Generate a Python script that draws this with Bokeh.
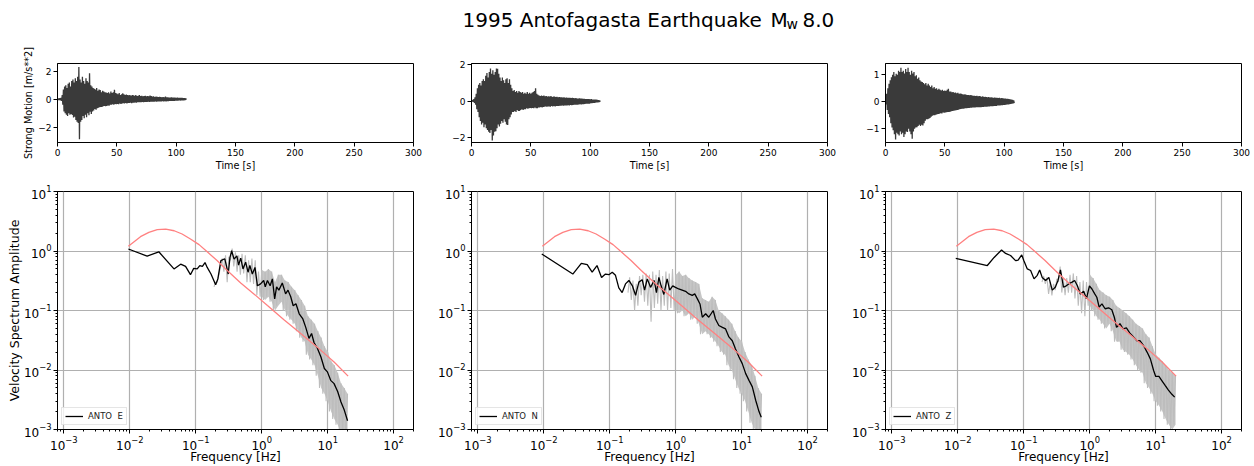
import numpy as np
from bokeh.plotting import figure
from bokeh.layouts import column, row
from bokeh.models import Range1d, FixedTicker, Label, CustomJSTickFormatter
from bokeh.embed import file_html
from bokeh.resources import INLINE

FONT = "DejaVu Sans"

# ---------------- text ----------------
TITLE_MAIN = "1995 Antofagasta Earthquake"
TITLE_M = "M"
TITLE_SUB = "w"
TITLE_MAG = "8.0"
STATION = "ANTO"
COMPONENTS = ["E", "N", "Z"]
TIME_LABEL = "Time [s]"
MOTION_LABEL = "Strong Motion [m/s**2]"
FREQ_LABEL = "Frequency [Hz]"
SPEC_LABEL = "Velocity Spectrum Amplitude"
TIME_TICKS = [0, 50, 100, 150, 200, 250, 300]

# ---------------- strong motion: per-second positive / negative peaks [m/s**2] ----------------
E_UP = [0.05, 0.06, 0.08, 0.1, 0.3, 0.7, 0.9, 1.0, 0.8, 1.1,
        1.2, 0.9, 1.3, 1.4, 1.2, 1.5, 1.3, 1.6, 2.3, 1.4,
        1.2, 1.6, 1.3, 1.1, 1.5, 1.3, 1.2, 1.85, 1.0, 0.9,
        0.8, 0.75, 0.7, 0.8, 0.6, 0.7, 0.65, 0.5, 0.6, 0.55,
        0.5, 0.48, 0.45, 0.5, 0.4, 0.55, 0.45, 0.5, 0.67, 0.45,
        0.4, 0.35, 0.45, 0.3, 0.35, 0.43, 0.35, 0.3, 0.33, 0.3,
        0.28, 0.3, 0.25, 0.3, 0.28, 0.25, 0.3, 0.22, 0.25, 0.3,
        0.22, 0.25, 0.2, 0.22, 0.24, 0.2, 0.22, 0.2, 0.26, 0.22,
        0.18, 0.2, 0.16, 0.18, 0.17, 0.15, 0.17, 0.16, 0.14, 0.15,
        0.14, 0.19, 0.13, 0.14, 0.12, 0.12, 0.13, 0.12, 0.11, 0.12,
        0.1, 0.11, 0.1, 0.1, 0.09, 0.09, 0.08, 0.08, 0.06]
E_LO = [-0.05, -0.06, -0.08, -0.12, -0.4, -0.88, -1.0, -1.1, -1.19, -1.0,
        -1.1, -1.05, -1.12, -1.3, -1.25, -1.48, -1.6, -1.7, -2.86, -1.6,
        -1.48, -1.2, -1.35, -1.1, -1.29, -1.0, -1.15, -0.9, -1.05, -0.88,
        -0.8, -0.7, -0.75, -0.64, -0.6, -0.58, -0.55, -0.56, -0.5, -0.48,
        -0.5, -0.48, -0.45, -0.46, -0.4, -0.4, -0.36, -0.4, -0.34, -0.36,
        -0.33, -0.35, -0.3, -0.33, -0.3, -0.29, -0.3, -0.27, -0.3, -0.26,
        -0.27, -0.25, -0.28, -0.24, -0.25, -0.23, -0.24, -0.22, -0.21, -0.22,
        -0.21, -0.2, -0.21, -0.19, -0.2, -0.19, -0.18, -0.19, -0.18, -0.17,
        -0.17, -0.18, -0.16, -0.17, -0.16, -0.15, -0.16, -0.15, -0.14, -0.15,
        -0.14, -0.15, -0.13, -0.14, -0.12, -0.12, -0.11, -0.12, -0.11, -0.1,
        -0.1, -0.1, -0.09, -0.09, -0.08, -0.08, -0.07, -0.06, -0.04]

N_UP = [0.03, 0.05, 0.1, 0.2, 0.4, 0.7, 0.9, 1.0, 0.85, 1.1,
        1.2, 1.1, 1.4, 1.55, 1.3, 1.6, 1.8, 1.5, 1.7, 1.45,
        1.6, 1.8, 1.78, 1.5, 1.3, 1.1, 1.3, 1.15, 1.0, 1.2,
        1.26, 1.0, 1.2, 0.9, 0.7, 0.55, 0.6, 0.5, 0.55, 0.45,
        0.55, 0.5, 0.45, 0.5, 0.4, 0.45, 0.4, 0.5, 0.4, 0.45,
        0.4, 0.45, 0.5, 0.55, 0.7, 0.4, 0.35, 0.3, 0.28, 0.3,
        0.28, 0.3, 0.26, 0.28, 0.25, 0.26, 0.24, 0.27, 0.22, 0.25,
        0.24, 0.22, 0.23, 0.2, 0.22, 0.2, 0.21, 0.19, 0.2, 0.18,
        0.19, 0.18, 0.17, 0.18, 0.16, 0.17, 0.16, 0.15, 0.16, 0.14,
        0.14, 0.15, 0.13, 0.14, 0.12, 0.12, 0.11, 0.11, 0.1, 0.1,
        0.09, 0.1, 0.08, 0.08, 0.07, 0.07, 0.06, 0.05, 0.03]
N_LO = [-0.03, -0.05, -0.1, -0.2, -0.45, -0.6, -0.9, -1.1, -1.3, -1.2,
        -1.45, -1.3, -1.5, -1.6, -1.7, -1.76, -1.6, -2.18, -1.9, -1.7,
        -1.67, -1.5, -1.3, -1.4, -1.25, -1.1, -1.2, -1.0, -1.15, -1.3,
        -1.33, -1.0, -0.9, -0.74, -0.6, -0.6, -0.55, -0.6, -0.5, -0.55,
        -0.55, -0.5, -0.45, -0.5, -0.45, -0.45, -0.4, -0.42, -0.4, -0.38,
        -0.4, -0.38, -0.4, -0.36, -0.4, -0.4, -0.36, -0.35, -0.33, -0.35,
        -0.33, -0.32, -0.3, -0.32, -0.3, -0.3, -0.32, -0.28, -0.3, -0.28,
        -0.3, -0.28, -0.27, -0.28, -0.26, -0.26, -0.25, -0.26, -0.24, -0.25,
        -0.24, -0.23, -0.24, -0.22, -0.23, -0.22, -0.21, -0.2, -0.21, -0.2,
        -0.19, -0.18, -0.19, -0.17, -0.17, -0.16, -0.15, -0.15, -0.14, -0.14,
        -0.12, -0.12, -0.11, -0.1, -0.09, -0.08, -0.07, -0.06, -0.04]

Z_UP = [0.1, 0.3, 0.5, 0.67, 0.8, 0.91, 1.0, 1.1, 0.95, 1.04,
        1.0, 1.15, 1.1, 1.26, 1.1, 1.15, 1.05, 1.22, 1.1, 1.26,
        1.1, 1.0, 1.15, 1.05, 1.1, 0.95, 0.98, 0.85, 0.9, 0.8,
        0.75, 0.73, 0.7, 0.65, 0.7, 0.6, 0.67, 0.6, 0.55, 0.6,
        0.5, 0.55, 0.48, 0.5, 0.45, 0.48, 0.45, 0.42, 0.45, 0.4,
        0.42, 0.4, 0.45, 0.48, 0.38, 0.38, 0.35, 0.36, 0.33, 0.34,
        0.32, 0.33, 0.3, 0.31, 0.3, 0.28, 0.27, 0.28, 0.26, 0.25,
        0.25, 0.24, 0.25, 0.23, 0.22, 0.22, 0.21, 0.22, 0.2, 0.21,
        0.2, 0.19, 0.2, 0.18, 0.19, 0.18, 0.17, 0.18, 0.16, 0.17,
        0.16, 0.15, 0.16, 0.15, 0.15, 0.14, 0.15, 0.13, 0.14, 0.13,
        0.12, 0.12, 0.11, 0.11, 0.1, 0.09, 0.08, 0.07, 0.05]
Z_LO = [-0.1, -0.3, -0.45, -0.57, -0.8, -0.95, -1.06, -1.2, -1.4, -1.15,
        -1.2, -1.25, -1.1, -1.2, -1.15, -1.31, -1.2, -1.1, -1.12, -1.0,
        -1.1, -1.2, -1.37, -1.1, -1.0, -0.95, -0.94, -0.9, -0.85, -0.9,
        -0.85, -0.88, -0.8, -0.7, -0.65, -0.65, -0.63, -0.6, -0.55, -0.52,
        -0.5, -0.5, -0.48, -0.46, -0.45, -0.44, -0.42, -0.43, -0.4, -0.41,
        -0.4, -0.39, -0.38, -0.38, -0.37, -0.35, -0.34, -0.33, -0.32, -0.31,
        -0.3, -0.29, -0.28, -0.27, -0.26, -0.26, -0.25, -0.24, -0.24, -0.23,
        -0.23, -0.22, -0.22, -0.21, -0.21, -0.21, -0.2, -0.2, -0.2, -0.2,
        -0.2, -0.19, -0.19, -0.18, -0.18, -0.18, -0.17, -0.17, -0.16, -0.16,
        -0.16, -0.15, -0.15, -0.15, -0.14, -0.14, -0.14, -0.13, -0.13, -0.12,
        -0.12, -0.11, -0.1, -0.1, -0.09, -0.08, -0.07, -0.06, -0.05]

SAMPLE_DT = 1.0  # seconds between successive peak pairs

MOTION_YRANGE = [(-3.09, 2.55), (-2.29, 2.07), (-1.51, 1.42)]
MOTION_YTICKS = [[-2, 0, 2], [-2, 0, 2], [-1, 0, 1]]

# ---------------- spectra ----------------
# theoretical source spectrum (red)
RED_F = [0.0095, 0.0145, 0.0194, 0.026, 0.035, 0.047, 0.062, 0.083, 0.112, 0.149,
         0.21, 0.30, 0.48, 0.76, 1.22, 2.17, 3.9, 7.0, 12.5, 20.4]
RED_A = [1.2, 1.74, 2.05, 2.28, 2.34, 2.19, 1.93, 1.59, 1.28, 0.97,
         0.69, 0.47, 0.29, 0.19, 0.121, 0.070, 0.041, 0.024, 0.0136, 0.0079]

# smoothed spectra (black)
E_F = [0.0095, 0.0183, 0.0275, 0.0467, 0.059, 0.070, 0.083, 0.093, 0.105, 0.115,
       0.126, 0.138, 0.149, 0.17, 0.20, 0.216, 0.24, 0.275, 0.29, 0.31,
       0.33, 0.35, 0.38, 0.42, 0.445, 0.48, 0.52, 0.57, 0.62, 0.66,
       0.72, 0.79, 0.86, 0.96, 1.07, 1.13, 1.22, 1.34, 1.45, 1.57,
       1.68, 1.82, 2.05, 2.3, 2.5, 2.75, 3.0, 3.3, 3.7, 4.2,
       4.65, 5.2, 5.7, 6.2, 7.0, 7.9, 8.9, 9.9, 11.1, 12.5,
       14.2, 15.9, 17.9, 20.0]
E_A = [1.08, 0.82, 0.97, 0.50, 0.60, 0.55, 0.40, 0.51, 0.50, 0.57,
       0.55, 0.64, 0.53, 0.41, 0.27, 0.34, 0.69, 0.74, 0.58, 0.41,
       0.78, 1.01, 0.73, 0.83, 0.58, 0.76, 0.50, 0.65, 0.44, 0.57,
       0.41, 0.53, 0.26, 0.28, 0.32, 0.25, 0.32, 0.26, 0.34, 0.157,
       0.25, 0.22, 0.29, 0.19, 0.22, 0.17, 0.12, 0.13, 0.088, 0.072,
       0.052, 0.034, 0.041, 0.029, 0.023, 0.0165, 0.0106, 0.0093, 0.0067, 0.0059,
       0.0043, 0.0029, 0.0021, 0.0014]

N_F = [0.0093, 0.0275, 0.037, 0.0455, 0.054, 0.064, 0.075, 0.086, 0.097, 0.109,
       0.122, 0.137, 0.154, 0.173, 0.195, 0.22, 0.246, 0.276, 0.31, 0.337,
       0.37, 0.415, 0.47, 0.51, 0.555, 0.60, 0.66, 0.74, 0.81, 0.90,
       0.99, 1.11, 1.25, 1.41, 1.58, 1.78, 1.94, 2.13, 2.33, 2.53,
       2.84, 3.17, 3.7, 4.0, 4.5, 5.1, 5.7, 6.4, 7.2, 8.0,
       9.1, 10.2, 11.5, 12.9, 14.5, 16.3, 18.3, 19.8]
N_A = [0.89, 0.41, 0.62, 0.59, 0.44, 0.57, 0.36, 0.41, 0.40, 0.44,
       0.39, 0.24, 0.20, 0.28, 0.32, 0.26, 0.18, 0.30, 0.33, 0.22,
       0.34, 0.245, 0.32, 0.20, 0.36, 0.26, 0.186, 0.34, 0.22, 0.26,
       0.245, 0.23, 0.22, 0.21, 0.19, 0.18, 0.19, 0.157, 0.129, 0.077,
       0.088, 0.077, 0.100, 0.072, 0.056, 0.052, 0.049, 0.036, 0.031, 0.023,
       0.0165, 0.0128, 0.0087, 0.0067, 0.0052, 0.0031, 0.0020, 0.0016]

Z_F = [0.0093, 0.028, 0.0355, 0.046, 0.053, 0.063, 0.075, 0.082, 0.093, 0.10,
       0.113, 0.127, 0.143, 0.16, 0.174, 0.19, 0.214, 0.24, 0.27, 0.30,
       0.33, 0.36, 0.40, 0.44, 0.48, 0.54, 0.59, 0.65, 0.72, 0.81,
       0.89, 0.99, 1.08, 1.19, 1.28, 1.39, 1.53, 1.71, 1.93, 2.16,
       2.36, 2.55, 2.87, 3.2, 3.6, 4.1, 4.6, 5.2, 5.8, 6.5,
       7.4, 8.3, 9.3, 10.0, 11.2, 12.3, 13.9, 15.6, 17.6, 19.4]
Z_A = [0.75, 0.57, 0.78, 1.04, 0.91, 0.84, 0.69, 0.70, 0.86, 0.69,
       0.50, 0.47, 0.34, 0.39, 0.48, 0.36, 0.32, 0.36, 0.22, 0.246,
       0.32, 0.48, 0.246, 0.26, 0.28, 0.30, 0.32, 0.26, 0.19, 0.21,
       0.157, 0.26, 0.23, 0.19, 0.167, 0.114, 0.129, 0.107, 0.111, 0.103,
       0.077, 0.052, 0.060, 0.049, 0.051, 0.041, 0.036, 0.031, 0.031, 0.026,
       0.020, 0.0154, 0.0098, 0.0078, 0.0078, 0.0067, 0.0055, 0.0046, 0.0039, 0.0035]

# raw spectra (grey): alternating high / low excursions on a log frequency grid 0.2 .. 20 Hz
GRAY_F_MIN, GRAY_F_MAX, GRAY_N = 0.2, 20.0, 41
GRAY_FILL_FROM = 0.9  # Hz; above this the raw spectrum is a dense band
E_GHI = [0.30, 0.40, 0.75, 0.85, 0.80, 1.10, 0.95, 0.85, 0.90, 0.85,
         0.70, 0.75, 0.70, 0.45, 0.48, 0.45, 0.50, 0.45, 0.30, 0.40,
         0.40, 0.32, 0.30, 0.25, 0.22, 0.18, 0.15, 0.12, 0.08, 0.07,
         0.06, 0.045, 0.035, 0.025, 0.02, 0.014, 0.012, 0.009, 0.006, 0.005, 0.004]
E_GLO = [0.25, 0.30, 0.55, 0.45, 0.30, 0.70, 0.55, 0.45, 0.40, 0.42,
         0.30, 0.30, 0.28, 0.18, 0.17, 0.15, 0.17, 0.14, 0.10, 0.12,
         0.14, 0.10, 0.08, 0.07, 0.06, 0.045, 0.035, 0.03, 0.018, 0.015,
         0.012, 0.008, 0.005, 0.004, 0.003, 0.002, 0.0015, 0.0012, 0.0009, 0.0008, 0.0007]
N_GHI = [0.36, 0.32, 0.28, 0.38, 0.40, 0.42, 0.40, 0.45, 0.40, 0.48,
         0.38, 0.45, 0.42, 0.50, 0.40, 0.45, 0.38, 0.40, 0.35, 0.32,
         0.30, 0.28, 0.16, 0.15, 0.14, 0.17, 0.15, 0.10, 0.09, 0.08,
         0.07, 0.06, 0.045, 0.035, 0.03, 0.02, 0.015, 0.012, 0.008, 0.005, 0.004]
N_GLO = [0.20, 0.15, 0.10, 0.12, 0.18, 0.14, 0.12, 0.065, 0.11, 0.13,
         0.10, 0.12, 0.10, 0.11, 0.10, 0.09, 0.10, 0.08, 0.09, 0.07,
         0.08, 0.06, 0.04, 0.045, 0.04, 0.035, 0.03, 0.025, 0.02, 0.018,
         0.012, 0.010, 0.007, 0.005, 0.004, 0.003, 0.002, 0.0013, 0.001, 0.0008, 0.0008]
Z_GHI = [0.38, 0.36, 0.30, 0.28, 0.34, 0.55, 0.34, 0.35, 0.40, 0.42,
         0.38, 0.30, 0.32, 0.30, 0.40, 0.35, 0.28, 0.22, 0.20, 0.18,
         0.17, 0.15, 0.12, 0.11, 0.10, 0.09, 0.08, 0.07, 0.06, 0.055,
         0.05, 0.04, 0.035, 0.025, 0.018, 0.016, 0.014, 0.012, 0.010, 0.009, 0.008]
Z_GLO = [0.30, 0.28, 0.19, 0.18, 0.22, 0.30, 0.20, 0.18, 0.20, 0.20,
         0.16, 0.12, 0.09, 0.08, 0.12, 0.10, 0.08, 0.07, 0.06, 0.05,
         0.06, 0.045, 0.03, 0.03, 0.022, 0.02, 0.018, 0.015, 0.012, 0.01,
         0.009, 0.006, 0.005, 0.004, 0.003, 0.0025, 0.002, 0.0015, 0.0012, 0.001, 0.0012]

FREQ_RANGE = (8e-4, 200.0)
SPEC_RANGE = (1e-3, 10.0)

MOTION = [(E_UP, E_LO), (N_UP, N_LO), (Z_UP, Z_LO)]
SMOOTH = [(E_F, E_A), (N_F, N_A), (Z_F, Z_A)]
RAW = [(E_GHI, E_GLO), (N_GHI, N_GLO), (Z_GHI, Z_GLO)]

# ---------------- layout ----------------
FRAME_W = 356
COLS = [(57, 10), (48, 9), (49, 13)]  # (left border, right border)
TITLE_H = 40
TOP_H, TOP_BT, TOP_BB = 136, 23, 34
BOT_H, BOT_BT, BOT_BB = 290, 15, 37


def peaks_to_trace(up, lo, dt):
    t, v = [], []
    for i, (a, b) in enumerate(zip(up, lo)):
        t += [i * dt, i * dt + dt / 2]
        v += [a, b]
    return t, v


def raw_grid():
    f = np.geomspace(GRAY_F_MIN, GRAY_F_MAX, GRAY_N)
    half = (f[1] / f[0]) ** 0.5
    return f, f / half


def raw_to_trace(hi, lo):
    f_hi, f_lo = raw_grid()
    x, y = [], []
    for fl, fh, a, b in zip(f_lo, f_hi, hi, lo):
        x += [fl, fh]
        y += [b, a]
    return x, y


def style_axes(p, tick_size, label_size):
    for ax in p.axis:
        ax.axis_line_color = "black"
        ax.major_tick_line_color = "black"
        ax.minor_tick_line_color = "black"
        ax.major_tick_in = 0
        ax.minor_tick_in = 0
        ax.major_tick_out = 4
        ax.minor_tick_out = 2
        ax.major_label_text_font = FONT
        ax.major_label_text_font_size = tick_size
        ax.major_label_text_color = "black"
        ax.major_label_standoff = 2
        ax.axis_label_text_font = FONT
        ax.axis_label_text_font_size = label_size
        ax.axis_label_text_font_style = "normal"
        ax.axis_label_text_color = "black"
        ax.axis_label_standoff = 3
    p.outline_line_color = "black"
    p.outline_line_width = 1
    p.outline_line_alpha = 1


minus_fmt = "return (tick < 0 ? '\u2212' : '') + Math.abs(tick).toString();"

tops = []
bots = []
for i, comp in enumerate(COMPONENTS):
    bl, br = COLS[i]
    # ---- strong-motion panel ----
    up, lo = MOTION[i]
    t, v = peaks_to_trace(up, lo, SAMPLE_DT)
    p = figure(width=bl + FRAME_W + br, height=TOP_H,
               x_range=Range1d(0, 300), y_range=Range1d(*MOTION_YRANGE[i]),
               output_backend="svg", toolbar_location=None,
               min_border_left=bl, min_border_right=br,
               min_border_top=TOP_BT, min_border_bottom=TOP_BB)
    p.line(t, v, line_color="#3a3a3a", line_width=1.3)
    p.grid.visible = False
    p.xaxis.ticker = FixedTicker(ticks=TIME_TICKS)
    p.yaxis.ticker = FixedTicker(ticks=MOTION_YTICKS[i])
    p.yaxis.formatter = CustomJSTickFormatter(code=minus_fmt)
    style_axes(p, "9px", "9.7px")
    p.xaxis.axis_label = TIME_LABEL
    p.xaxis.axis_label_standoff = 1
    for ax in p.axis:
        ax.minor_tick_out = 0
    if i == 0:
        p.yaxis.axis_label = MOTION_LABEL
        p.yaxis.axis_label_standoff = 1
    tops.append(p)

    # ---- spectrum panel ----
    q = figure(width=bl + FRAME_W + br, height=BOT_H,
               x_axis_type="log", y_axis_type="log",
               x_range=Range1d(*FREQ_RANGE), y_range=Range1d(*SPEC_RANGE),
               output_backend="svg", toolbar_location=None,
               min_border_left=bl, min_border_right=br,
               min_border_top=BOT_BT, min_border_bottom=BOT_BB)
    hi, lo = RAW[i]
    f_hi, f_lo = raw_grid()
    sel = [k for k in range(GRAY_N) if f_hi[k] >= GRAY_FILL_FROM]
    q.varea(x=[f_hi[k] for k in sel], y1=[lo[k] for k in sel], y2=[hi[k] for k in sel],
            fill_color="#c6c6c6", fill_alpha=1)
    gx, gy = raw_to_trace(hi, lo)
    q.line(gx, gy, line_color="#bdbdbd", line_width=1.1)
    fx, fa = SMOOTH[i]
    q.line(fx, fa, line_color="black", line_width=1.3, legend_label=f"{STATION}  {comp}")
    q.line(RED_F, RED_A, line_color="#ff8080", line_width=1.3)
    q.grid.grid_line_color = "#b0b0b0"
    q.grid.grid_line_width = 1.2
    q.grid.grid_line_alpha = 1
    style_axes(q, "12px", "12.5px")
    q.xaxis.axis_label = FREQ_LABEL
    q.xaxis.axis_label_text_font_size = "12px"
    q.xaxis.axis_label_standoff = -3
    if i == 0:
        q.yaxis.axis_label = SPEC_LABEL
        q.yaxis.axis_label_standoff = -1
    lg = q.legend[0]
    lg.location = "bottom_left"
    lg.margin = 4
    lg.padding = 3
    lg.spacing = 0
    lg.glyph_width = 18
    lg.glyph_height = 10
    lg.label_height = 10
    lg.label_standoff = 5
    lg.label_text_font = FONT
    lg.label_text_font_size = "8.5px"
    lg.label_text_color = "#222222"
    lg.border_line_color = "#cccccc"
    lg.border_line_width = 1
    lg.background_fill_alpha = 0.8
    bots.append(q)

# ---- title (label anchors are box centres: shift so baselines land at 26 px / 28.5 px) ----
tf = figure(width=1254, height=TITLE_H, x_range=Range1d(0, 1254), y_range=Range1d(0, TITLE_H),
            x_axis_location=None, y_axis_location=None, output_backend="svg",
            toolbar_location=None, min_border=0)
tf.grid.visible = False
tf.outline_line_color = None
main_y = TITLE_H - 19
sub_y = TITLE_H - 23.7
tf.add_layout(Label(x=462, y=main_y, x_units="screen", y_units="screen", text=TITLE_MAIN,
                    text_font=FONT, text_font_size="20px",
                    text_align="left", text_baseline="alphabetic", text_color="black"))
tf.add_layout(Label(x=770, y=main_y, x_units="screen", y_units="screen", text=TITLE_M,
                    text_font=FONT, text_font_size="20px",
                    text_align="left", text_baseline="alphabetic", text_color="black"))
tf.add_layout(Label(x=786, y=sub_y, x_units="screen", y_units="screen", text=TITLE_SUB,
                    text_font=FONT, text_font_size="14px",
                    text_align="left", text_baseline="alphabetic", text_color="black"))
tf.add_layout(Label(x=802, y=main_y, x_units="screen", y_units="screen", text=TITLE_MAG,
                    text_font=FONT, text_font_size="20px",
                    text_align="left", text_baseline="alphabetic", text_color="black"))

layout = column(tf, row(*tops), row(*bots))
open("out.html", "w").write(file_html(layout, INLINE))
